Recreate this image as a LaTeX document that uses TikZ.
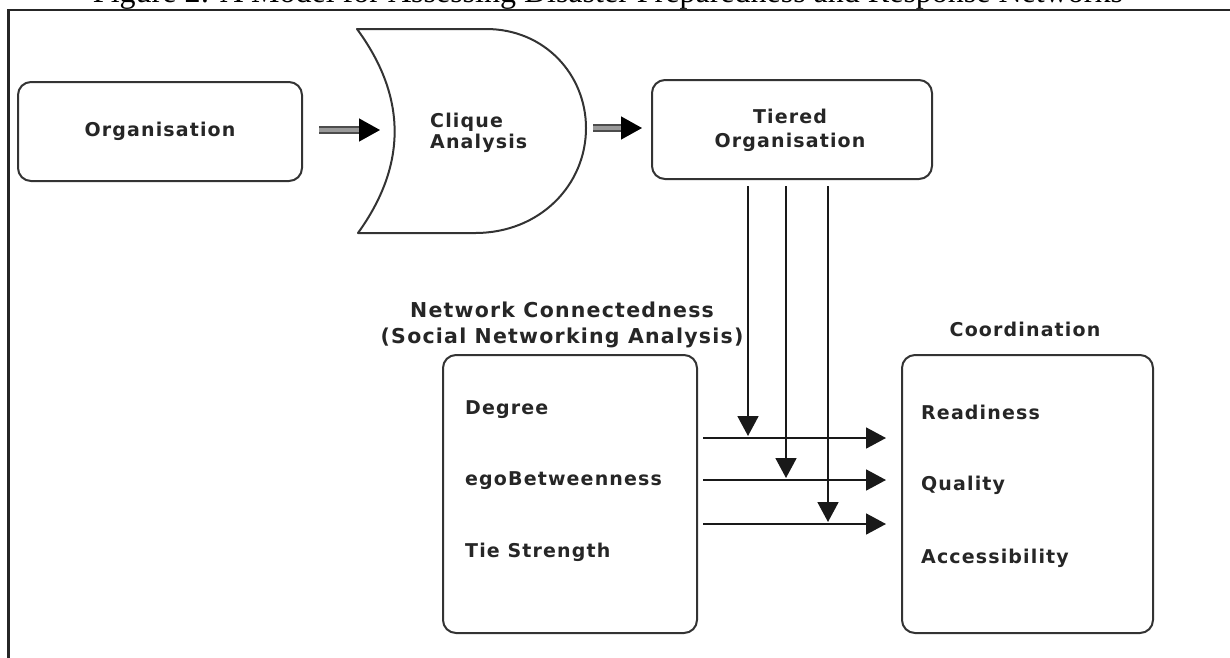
\documentclass[tikz,border=0pt]{standalone}
\usepackage{fontspec}
\setmainfont{Liberation Serif}
\newfontfamily\lblfont[LetterSpace=6]{DejaVu Sans}
\usetikzlibrary{arrows.meta}

\begin{document}
\begin{tikzpicture}[x=1pt,y=-1pt,
  box/.style={draw=black!80, line width=2pt, rounded corners=13pt, inner sep=0pt},
  lbl/.style={font=\lblfont\bfseries\fontsize{19}{24}\selectfont, text=black!85, inner sep=0pt},
  conn/.style={draw=black!90, line width=1.8pt, -{Triangle[length=20pt,width=21pt]}},
  fat/.style={draw=black!70, line width=1.4pt, double=black!40, double distance=4.5pt,
              -{Triangle[length=21pt,width=23pt,fill=black,color=black]}}]

\useasboundingbox (0,0) rectangle (1230,657);
\clip (0,0) rectangle (1230,657);

% caption, mostly above the page
\node[font=\fontsize{32}{36}\selectfont, anchor=base, inner sep=0pt] (title) at (608,2.5)
  {Figure 2: A Model for Assessing Disaster Preparedness and Response Networks};

% outer frame
\draw[black!85, line width=2.6pt] (8.5,670) -- (8.5,10) -- (1240,10);

% first row
\node[box, minimum width=284pt, minimum height=99pt, lbl] (org) at (160,131.5) {Organisation};

\draw[black!80, line width=2pt, line join=round]
  (357,29) -- (486,29) .. controls (545,29) and (586,75) .. (586,128)
  .. controls (586,185) and (540,233) .. (475,233) -- (358,233)
  .. controls (407,165) and (407,97) .. cycle;
\coordinate (cqW) at (395,130);
\coordinate (cqE) at (586,128);
\node[lbl, font=\lblfont\bfseries\fontsize{19}{21}\selectfont, align=left, anchor=base west]
  (clique) at (430,148) {Clique\\Analysis};

\node[box, minimum width=280pt, minimum height=99pt] (tiered) at (792,129.5) {};
\node[lbl, align=center, anchor=base] (tieredtxt) at (790,147) {Tiered\\Organisation};

\draw[fat, shorten <=16pt, shorten >=15pt] (org.east |- cqW) -- (cqW);
\draw[fat, shorten <=7pt, shorten >=9pt] (cqE) -- (tiered.west |- cqE);

% lower boxes
\node[lbl, font=\lblfont\bfseries\fontsize{20.5}{26}\selectfont, align=center, anchor=base]
  (nclabel) at (562,343) {Network Connectedness\\(Social Networking Analysis)};
\node[box, minimum width=254pt, minimum height=278pt] (nc) at (570,494) {};
\node[lbl, anchor=base west] (deg) at (465,414) {Degree};
\node[lbl, anchor=base west] (ego) at (465,485) {egoBetweenness};
\node[lbl, anchor=base west] (tie) at (465,557) {Tie Strength};

\node[lbl, anchor=base] (coordlabel) at (1025,336) {Coordination};
\node[box, minimum width=251pt, minimum height=278pt] (coord) at (1027.5,494) {};
\node[lbl, anchor=base west] (ready) at (921,419) {Readiness};
\node[lbl, anchor=base west] (qual) at (921,490) {Quality};
\node[lbl, anchor=base west] (access) at (921,563) {Accessibility};

% connector rows
\coordinate (r1) at (748,438);
\coordinate (r2) at (786,480);
\coordinate (r3) at (828,524);

\foreach \r in {r1,r2,r3}{
  \draw[conn, shorten <=5pt, shorten >=15pt] (nc.east |- \r) -- (coord.west |- \r);
  \draw[conn, shorten <=6pt, shorten >=2pt] (tiered.south -| \r) -- (\r);
}

\end{tikzpicture}
\end{document}
